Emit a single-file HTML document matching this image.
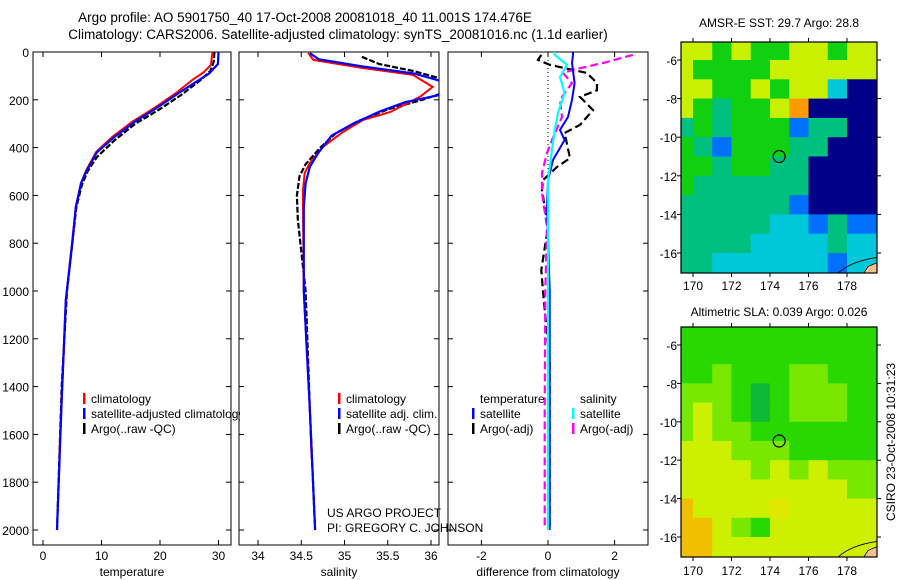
<!DOCTYPE html>
<html><head><meta charset="utf-8"><style>
body{margin:0;background:#fff;}
svg{display:block;font-family:"Liberation Sans",sans-serif;}
</style></head><body>
<svg id="c" width="900" height="580" viewBox="0 0 900 580">
<rect x="0" y="0" width="900" height="580" fill="#fff"/>
<text x="305" y="22" text-anchor="middle" font-size="13.5">Argo profile: AO 5901750_40 17-Oct-2008 20081018_40 11.001S 174.476E</text>
<text x="338" y="39" text-anchor="middle" font-size="13.5">Climatology: CARS2006. Satellite-adjusted climatology: synTS_20081016.nc (1.1d earlier)</text>
<g id="plots"></g>
</svg>
<script>
// ---- data ----
const depthTicks=[0,200,400,600,800,1000,1200,1400,1600,1800,2000];
const tempTicks=[0,10,20,30];
const salTicks=[34,34.5,35,35.5,36];
const salTickLabels=["34","34.5","35","35.5","36"];
const diffTicks=[-2,0,2];
// temperature profiles
const tClimD=[0,12,54,84,117,172,230,293,356,418,494,548,648,787,1038,1456,1690];
const tClimV=[29.0,28.9,28.7,27.5,25.5,22.7,19.3,15.2,11.8,9.1,7.4,6.5,5.6,5.0,3.9,3.2,2.8];
const tSatD=[0,50,90,120,170,230,290,360,420,500,550,650,800,1038,1456,2000];
const tSatV=[30.0,29.9,28.4,26.5,23.3,19.7,15.8,12.0,9.2,7.4,6.5,5.6,5.0,3.9,3.2,2.4];
const tArgoD=[0,40,80,120,180,240,300,370,440,500,560,650,800,1000,1400,2000];
const tArgoV=[29.3,29.2,28.6,26.8,23.6,19.9,15.8,12.2,9.2,7.6,6.6,5.7,5.0,4.1,3.2,2.4];
// salinity profiles
const sClimD=[4,33,67,96,146,188,251,285,335,397,464,506,577,648,1000,1500,1700];
const sClimV=[34.58,34.64,35.21,35.79,36.02,35.87,35.53,35.21,34.98,34.75,34.6,34.54,34.52,34.52,34.53,34.6,34.62];
const sSatD=[5,30,60,90,120,150,180,210,250,300,350,420,480,550,650,1000,1500,2000];
const sSatV=[34.6,34.7,35.2,35.8,36.1,36.2,36.1,35.7,35.4,35.1,34.85,34.7,34.6,34.55,34.53,34.53,34.6,34.66];
const sArgoD=[20,50,80,110,140,170,200,240,290,340,400,470,520,600,700,1000,1500,2000];
const sArgoV=[35.2,35.4,35.8,36.1,36.2,36.15,35.9,35.5,35.15,34.9,34.72,34.55,34.48,34.45,34.46,34.55,34.6,34.66];
// difference profiles
const dTSatD=[0,12,46,130,200,272,326,368,452,536,648,1000,1500,2000];
const dTSatV=[0.75,0.75,0.72,0.8,0.72,0.6,0.36,0.5,0.15,0,-0.03,0.05,0.05,0.05];
const dSSatD=[0,12,54,105,172,255,326,410,536,800,1200,2000];
const dSSatV=[0.2,0.2,0.57,0.36,0.5,0.3,0.2,0.12,0,0,0,0];
const dSArgoD=[12,46,75,88,130,200,272,368,423,506,590,732,1000,1500,1990];
const dSArgoV=[2.55,1.65,0.75,0.45,0.72,0.36,0.42,0.12,-0.03,-0.18,-0.18,-0.03,-0.08,-0.1,-0.1];
const dTArgoD=[12,33,54,88,130,160,188,243,305,339,444,481,536,577,732,912,1000,1300,1600,1990];
const dTArgoV=[-0.2,-0.3,0.06,1.17,1.47,1.47,0.96,1.35,0.96,0.5,0.66,0.27,-0.15,-0.18,0,-0.2,-0.15,0.05,0.05,0.05];
// maps (rows lat -5..-17, cols lon 169..179(+))
const sstGrid=["YYGYGGYYGY","YGGGGYYYYY","YYGGYGYYCN","YGTGGYONNN","TGTGGGBTTN","GTBGGGTTNN","GGTGGTTNNN","GTTTTTTNNN","TTTTTTBNNN","TTTTTCCBTB","TTTTCCCCTC","TTCCCCCCBC"];
const slaGrid=["GGGGGGGGGG","GGGGGGGGGG","GGLGGGLLGG","LLLGDGLLLG","LYLGDGLLLG","LYLLGGGGGG","YYYLLLGGGG","YYYYLYLYLL","YYYYYYYYYL","OYYYYoYYYY","OOYLGYYYYY","OOYYYYYYYY"];
const sstColors={Y:"#c8f000",G:"#10d010",T:"#00c080",C:"#00c8d8",B:"#0070ff",N:"#000088",O:"#ff9900"};
const slaColors={G:"#28d800",D:"#10b838",L:"#78e800",Y:"#ccf000",O:"#f0c000",o:"#e0e800"};

const NS="http://www.w3.org/2000/svg";
const root=document.getElementById('plots');
function el(t,a,p){const e=document.createElementNS(NS,t);for(const k in a)e.setAttribute(k,a[k]);(p||root).appendChild(e);return e;}
const Y0=52,Y1=545;
function yD(d){return 52+d*478/2000;}
const panels=[
 {x0:33,x1:231,f:v=>43+v*5.85,ticks:tempTicks,labels:tempTicks.map(String),title:"temperature",name:"temperature-panel"},
 {x0:239,x1:439,f:v=>258+(v-34)*86.5,ticks:salTicks,labels:salTickLabels,title:"salinity",name:"salinity-panel"},
 {x0:448,x1:648,f:v=>548+v*33.3,ticks:diffTicks,labels:diffTicks.map(String),title:"difference from climatology",name:"difference-panel"}
];
function line(g,p,D,V,col,w,dash,name){
  let s=D.map((d,i)=>(i?'L':'M')+p.f(V[i]).toFixed(1)+','+yD(d).toFixed(1)).join('');
  const e=el('path',{d:s,fill:'none',stroke:col,'stroke-width':w,'stroke-dasharray':dash||'none','clip-path':'url(#'+p.clip+')'},g);
  
  
}
const defs=el('defs',{});
const lc=el('clipPath',{id:'legclip'},defs);el('rect',{x:0,y:0,width:240,height:580},lc);
panels.forEach((p,i)=>{
  p.clip='clip'+i;
  const cp=el('clipPath',{id:p.clip},defs);el('rect',{x:p.x0,y:Y0,width:p.x1-p.x0,height:Y1-Y0},cp);
  const g=el('g',{});
  
  
  el('rect',{x:p.x0,y:Y0,width:p.x1-p.x0,height:Y1-Y0,fill:'#fff',stroke:'#000','stroke-width':1},g);
  depthTicks.forEach(d=>{const y=yD(d);
    el('line',{x1:p.x0,x2:p.x0+5,y1:y,y2:y,stroke:'#000'},g);el('line',{x1:p.x1-5,x2:p.x1,y1:y,y2:y,stroke:'#000'},g);
    if(i==0){const t=el('text',{x:29,y:y+5,'text-anchor':'end','font-size':12},g);t.textContent=d;
      
      }
  });
  p.ticks.forEach((v,k)=>{const x=p.f(v);
    el('line',{x1:x,x2:x,y1:Y0,y2:Y0+5,stroke:'#000'},g);el('line',{x1:x,x2:x,y1:Y1-5,y2:Y1,stroke:'#000'},g);
    const t=el('text',{x:x,y:560,'text-anchor':'middle','font-size':12},g);t.textContent=p.labels[k];
    
    
  });
  const tt=el('text',{x:(p.x0+p.x1)/2,y:576,'text-anchor':'middle','font-size':12},g);tt.textContent=p.title;
  
  
  p.g=g;
});
const [P1,P2,P3]=panels;
el('line',{x1:548,x2:548,y1:Y0,y2:200,stroke:'#000','stroke-dasharray':'1,3'},P3.g);
line(P1.g,P1,tArgoD,tArgoV,'#000',2.2,'6,2','temp-argo-line');
line(P1.g,P1,tClimD,tClimV,'#f00',2,null,'temp-climatology-line');
line(P1.g,P1,tSatD,tSatV,'#00f',2.2,null,'temp-satellite-line');
line(P2.g,P2,sArgoD,sArgoV,'#000',2.2,'6,2','sal-argo-line');
line(P2.g,P2,sClimD,sClimV,'#f00',2,null,'sal-climatology-line');
line(P2.g,P2,sSatD,sSatV,'#00f',2.2,null,'sal-satellite-line');
line(P3.g,P3,dTArgoD,dTArgoV,'#000',2.2,'8,4','diff-temp-argo-line');
line(P3.g,P3,dSArgoD,dSArgoV,'#f0f',2.2,'8,4','diff-sal-argo-line');
line(P3.g,P3,dTSatD,dTSatV,'#00f',2,null,'diff-temp-satellite-line');
line(P3.g,P3,dSSatD,dSSatV,'#0ff',2.2,null,'diff-sal-satellite-line');

function legend(x,y,col,txt,g,clip){
  if(col) el('rect',{x:x,y:y-10,width:2.5,height:11,fill:col},g);
  const a={x:x+8,y:y,'font-size':12};if(clip)a['clip-path']='url(#legclip)';
  const t=el('text',a,g);t.textContent=txt;
  
  
}
legend(83,403,'#f00','climatology',null,1);legend(83,418,'#00f','satellite-adjusted climatology',null,1);legend(83,433,'#000','Argo(..raw -QC)',null,1);
legend(338,403,'#f00','climatology');legend(338,418,'#00f','satellite adj. clim.');legend(338,433,'#000','Argo(..raw -QC)');
legend(472,403,null,'temperature');legend(472,418,'#00f','satellite');legend(472,433,'#000','Argo(-adj)');
legend(572,403,null,'salinity');legend(572,418,'#0ff','satellite');legend(572,433,'#f0f','Argo(-adj)');
[["US ARGO PROJECT",517],["PI: GREGORY C. JOHNSON",532]].forEach(a=>{const t=el('text',{x:327,y:a[1],'font-size':12});t.textContent=a[0];
  
  });

// maps
function map(y0,y1,lat6y,lat16y,grid,colors,title,name,ty,lbly){
  const x0=681,x1=877;const lx=l=>693+(l-170)*19.25;const ly=l=>lat6y+(-l-6)*(lat16y-lat6y)/10;
  const g=el('g',{});
  
  
  const cid='c'+name;const cp=el('clipPath',{id:cid},defs);el('rect',{x:x0,y:y0,width:x1-x0,height:y1-y0},cp);
  const gg=el('g',{'clip-path':'url(#'+cid+')'},g);
  grid.forEach((row,r)=>{[...row].forEach((ch,c)=>{
    const a=lx(169+c),b=ly(-5-r);
    const w=(c==row.length-1?lx(181):lx(170+c))-a+0.5;
    const cell=el('rect',{x:a,y:b,width:w,height:ly(-6-r)-b+0.5,fill:colors[ch]},gg);
    
    
  });});
  el('path',{d:`M${lx(178.7)},${ly(-17.3)} L${lx(179.1)},${ly(-16.7)} L${lx(179.8)},${ly(-16.4)} L${lx(179.8)},${ly(-17.3)}Z`,fill:'#f8c090',stroke:'#000','stroke-width':0.8},gg);
  el('path',{d:`M${lx(177.3)},${ly(-17.3)} Q${lx(178)},${ly(-16.4)} ${lx(179.8)},${ly(-16.2)}`,fill:'none',stroke:'#000','stroke-width':0.8},gg);
  el('rect',{x:x0,y:y0,width:x1-x0,height:y1-y0,fill:'none',stroke:'#000','stroke-width':1.2},g);
  [170,172,174,176,178].forEach(l=>{const x=lx(l);el('line',{x1:x,x2:x,y1:y0-4,y2:y0,stroke:'#000'},g);el('line',{x1:x,x2:x,y1:y1,y2:y1+4,stroke:'#000'},g);
    const t=el('text',{x:x,y:lbly,'text-anchor':'middle','font-size':12},g);t.textContent=l;
    
    });
  [-6,-8,-10,-12,-14,-16].forEach(l=>{const y=ly(l);el('line',{x1:x0-4,x2:x0,y1:y,y2:y,stroke:'#000'},g);el('line',{x1:x1,x2:x1+4,y1:y,y2:y,stroke:'#000'},g);
    const t=el('text',{x:677,y:y+5,'text-anchor':'end','font-size':12},g);t.textContent=l;
    
    });
  const c=el('circle',{cx:lx(174.476),cy:ly(-11.001),r:6,fill:'none',stroke:'#000','stroke-width':1.2},g);
  
  
  const t=el('text',{x:779,y:ty,'text-anchor':'middle','font-size':12},g);t.textContent=title;
  
  
}
map(42,273,60,253,sstGrid,sstColors,"AMSR-E SST: 29.7 Argo: 28.8","sst-map",27,290);
map(327,557,345,537,slaGrid,slaColors,"Altimetric SLA: 0.039 Argo: 0.026","sla-map",316,575);
const st=el('text',{x:0,y:0,'font-size':12,transform:'translate(895,442) rotate(-90)','text-anchor':'middle'});st.textContent="CSIRO 23-Oct-2008 10:31:23";


</script>
</body></html>
